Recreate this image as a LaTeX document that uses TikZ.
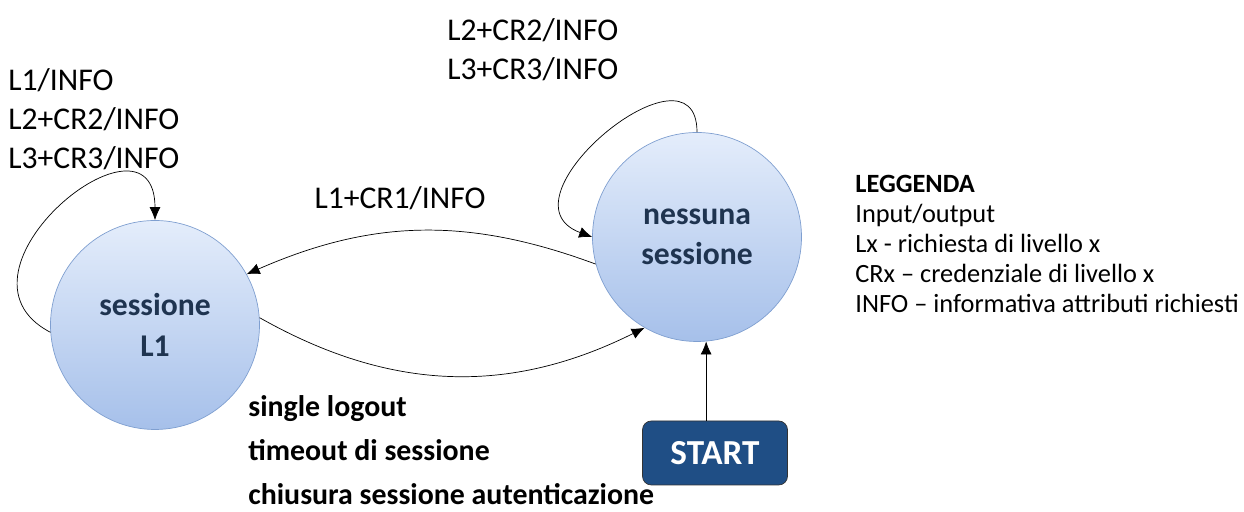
\documentclass[tikz,border=0pt]{standalone}
\usepackage{fontspec}
\setmainfont{Carlito}
\usetikzlibrary{arrows,arrows.meta}
\definecolor{stateborder}{HTML}{7F9FD0}
\definecolor{statetop}{HTML}{E4EDFB}
\definecolor{statebot}{HTML}{A6C0EA}
\definecolor{statetext}{HTML}{1F3450}
\definecolor{startblue}{HTML}{1F4E85}
\tikzset{
	state/.style={circle,draw=stateborder,top color=statetop,bottom color=statebot,
		minimum size=4.18cm,inner sep=0pt,align=center,text=statetext,
		font=\fontsize{18}{23}\selectfont\bfseries},
	startbox/.style={rectangle,rounded corners=5pt,draw=black!80,fill=startblue,text=white,
		minimum width=2.9cm,minimum height=1.28cm,font=\fontsize{20}{24}\selectfont\bfseries},
	trans/.style={-{Latex[length=2.6mm,width=2.2mm]},black},
	lab/.style={inner sep=0pt,align=left,font=\fontsize{18}{22.2}\selectfont},
}
\begin{document}
\begin{tikzpicture}[x=0.2mm,y=0.2mm]
		\useasboundingbox (0,0) rectangle (1244,512);
		% stati
		\node[state] (l1) at (155,187) {sessione\\L1};
		\node[state] (ness) at (697,275) {nessuna\\sessione};
		\node[startbox] (start) at (715,59) {START};
		% transizioni
		\draw[trans] (l1.184) .. controls +(-115,60) and +(0,125) .. (l1.north);
		\draw[trans] (ness.north) .. controls +(0,100) and +(-100,37) .. (ness.180);
		\draw[trans] (ness.195) to[bend right=22] (l1.29);
		\draw[trans] (l1.4) to[bend right=28] (ness.240);
		\draw[trans] (start.north -| ness.-85) -- (ness.-85);
		% etichette
		\node[lab,anchor=west] (loopl1) at (8,393) {L1/INFO\\L2+CR2/INFO\\L3+CR3/INFO};
		\node[lab,anchor=west] (loopness) at (447,462) {L2+CR2/INFO\\L3+CR3/INFO};
		\node[lab] (lblup) at (400,314) {L1+CR1/INFO};
		\node[lab,anchor=west,font=\fontsize{17}{25}\selectfont\bfseries] (lbldown) at (248,62)
			{single logout\\timeout di sessione\\chiusura sessione autenticazione};
		\node[lab,anchor=west,font=\fontsize{15}{17}\selectfont] (legend) at (855,268)
			{\textbf{LEGGENDA}\\Input/output\\Lx - richiesta di livello x\\CRx -- credenziale di livello x\\INFO -- informativa attributi richiesti};
	\end{tikzpicture}
\end{document}
